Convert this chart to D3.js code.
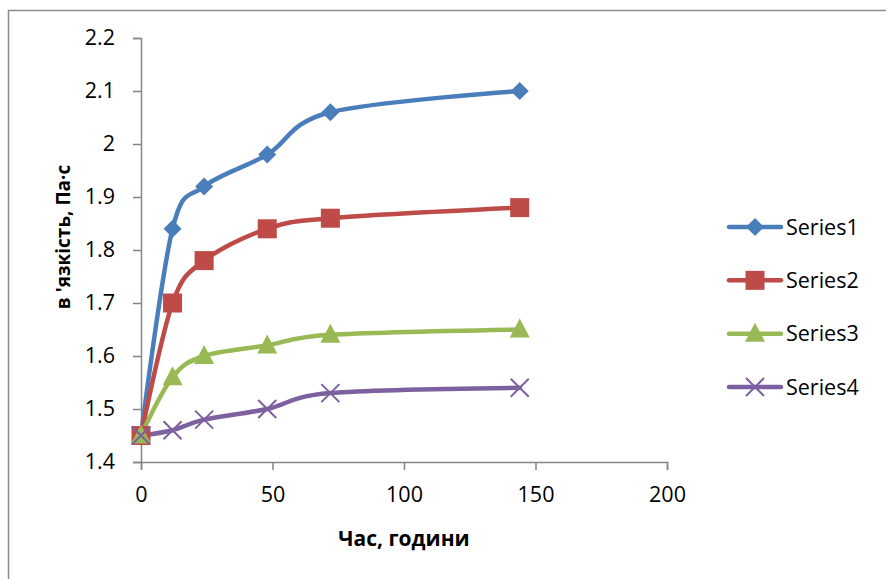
<!DOCTYPE html>
<html>
<head>
<meta charset="utf-8">
<script src="https://cdn.jsdelivr.net/npm/d3@7"></script>
<style>
  html, body { margin: 0; padding: 0; background: #fff; }
  svg { display: block; }
  text { font-family: "Open Sans", Lato, sans-serif; fill: #000; }
</style>
</head>
<body>
<script>
// Viscosity over time for four samples
const hours = [0, 12, 24, 48, 72, 144];
const seriesNames = ["Series1", "Series2", "Series3", "Series4"];
const series1 = [1.45, 1.84, 1.92, 1.98, 2.06, 2.10];
const series2 = [1.45, 1.70, 1.78, 1.84, 1.86, 1.88];
const series3 = [1.45, 1.56, 1.60, 1.62, 1.64, 1.65];
const series4 = [1.45, 1.46, 1.48, 1.50, 1.53, 1.54];
const xTicks = [0, 50, 100, 150, 200];
const yTicks = [1.4, 1.5, 1.6, 1.7, 1.8, 1.9, 2.0, 2.1, 2.2];
const xTitle = "Час, години";
const yTitle = "в 'язкість, Па·с";

const allSeries = [series1, series2, series3, series4];
const colors = ["#4a7ebb", "#be4b48", "#98b954", "#7d60a0"];
const symbols = ["diamond", "square", "triangle", "cross"];

const W = 886, H = 579;
const svg = d3.select("body").append("svg").attr("width", W).attr("height", H);

// outer chart frame
svg.append("rect")
  .attr("x", 8.5).attr("y", 10.5)
  .attr("width", 900).attr("height", 600)
  .attr("fill", "none").attr("stroke", "#8c8c8c").attr("stroke-width", 1.5);

const x = d3.scaleLinear().domain([0, 200]).range([141, 667]);
const y = d3.scaleLinear().domain([1.4, 2.2]).range([462, 38]);

// y axis
const yAxis = svg.append("g").attr("transform", `translate(${x(0)},0)`)
  .call(d3.axisLeft(y).tickValues(yTicks).tickSize(8).tickPadding(18)
    .tickFormat(d => d3.format("")(+d.toFixed(1))));
// x axis
const xAxis = svg.append("g").attr("transform", `translate(0,${y(1.4)})`)
  .call(d3.axisBottom(x).tickValues(xTicks).tickSize(8).tickPadding(17));

[yAxis, xAxis].forEach(g => {
  g.select(".domain").attr("stroke", "#868686").attr("stroke-width", 1.5);
  g.selectAll(".tick line").attr("stroke", "#868686").attr("stroke-width", 1.5);
  g.selectAll(".tick text").attr("font-size", 21.5).attr("font-family", "'Open Sans', sans-serif").attr("fill", "#000");
});

// axis titles
svg.append("text")
  .attr("x", x(100)).attr("y", 546)
  .attr("text-anchor", "middle").attr("font-size", 21).attr("font-weight", "bold")
  .text(xTitle);
svg.append("text")
  .attr("transform", "translate(70,237) rotate(-90)")
  .attr("text-anchor", "middle").attr("font-size", 19).attr("font-weight", "bold")
  .text(yTitle);

const line = d3.line()
  .x((d, i) => x(hours[i]))
  .y(d => y(d))
  .curve(d3.curveCardinal.tension(0));

function drawMarker(g, type, color, cx, cy) {
  if (type === "diamond") {
    g.append("path").attr("d", `M${cx},${cy - 9}L${cx + 9},${cy}L${cx},${cy + 9}L${cx - 9},${cy}Z`)
      .attr("fill", color);
  } else if (type === "square") {
    g.append("rect").attr("x", cx - 9.5).attr("y", cy - 9.5).attr("width", 19).attr("height", 19)
      .attr("fill", color);
  } else if (type === "triangle") {
    g.append("path").attr("d", `M${cx},${cy - 11}L${cx + 10},${cy + 8}L${cx - 10},${cy + 8}Z`)
      .attr("fill", color);
  } else {
    g.append("path").attr("d", `M${cx - 9},${cy - 9}L${cx + 9},${cy + 9}M${cx - 9},${cy + 9}L${cx + 9},${cy - 9}`)
      .attr("stroke", color).attr("stroke-width", 2).attr("fill", "none");
  }
}

const plot = svg.append("g");
allSeries.forEach((vals, si) => {
  plot.append("path")
    .attr("d", line(vals))
    .attr("fill", "none")
    .attr("stroke", colors[si])
    .attr("stroke-width", 4.5)
    .attr("stroke-linecap", "round")
    .attr("stroke-linejoin", "round");
});
allSeries.forEach((vals, si) => {
  const g = plot.append("g");
  vals.forEach((v, i) => drawMarker(g, symbols[si], colors[si], x(hours[i]), y(v)));
});

// legend
const legendY = d3.scaleLinear().domain([0, 3]).range([227, 387]);
seriesNames.forEach((name, si) => {
  const ly = legendY(si);
  const g = svg.append("g");
  g.append("line").attr("x1", 729).attr("x2", 781).attr("y1", ly).attr("y2", ly)
    .attr("stroke", colors[si]).attr("stroke-width", 4.5).attr("stroke-linecap", "round");
  drawMarker(g, symbols[si], colors[si], 755, ly);
  g.append("text").attr("x", 786).attr("y", ly + 7.5).attr("font-size", 21.5).text(name);
});
</script>
</body>
</html>
